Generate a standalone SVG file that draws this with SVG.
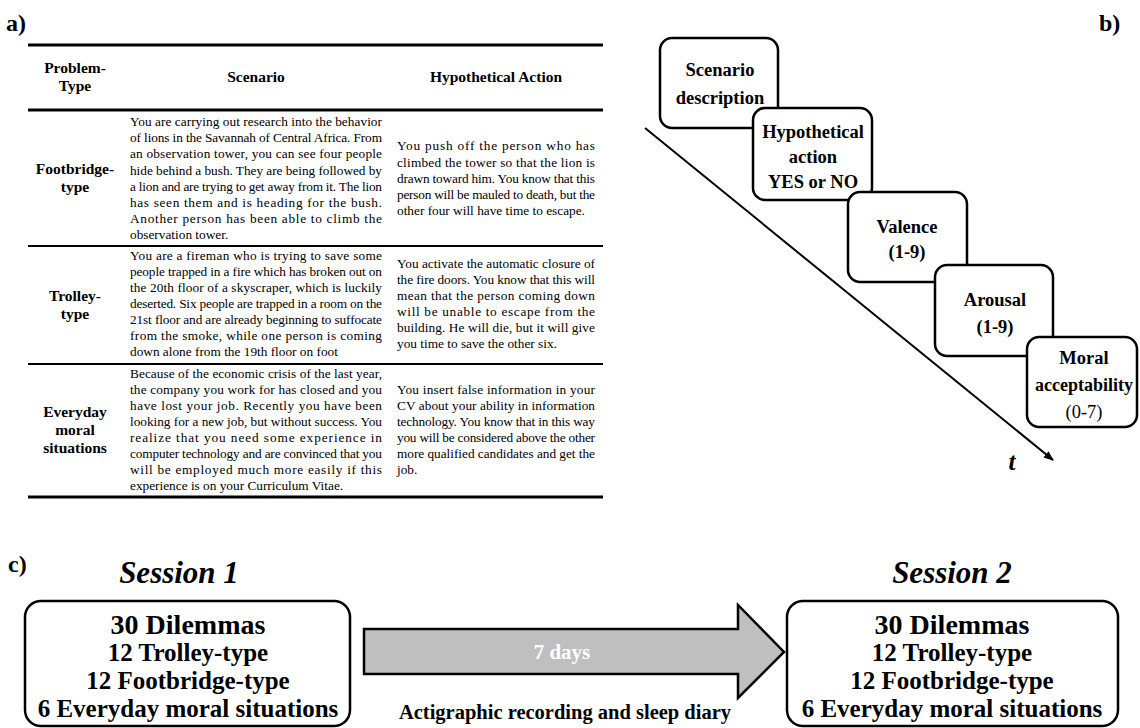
<svg xmlns="http://www.w3.org/2000/svg" width="1140" height="728" viewBox="0 0 1140 728">
<style>
text{font-family:"Liberation Serif","Times New Roman",serif;fill:#000}
.lbl{font-size:24px;font-weight:700}
.hd{font-size:15.5px;font-weight:700;text-anchor:middle}
.bd{font-size:13.3px}
.box{fill:#fff;stroke:#000;stroke-width:2.5}
.bt{font-size:18.5px;font-weight:700;text-anchor:middle}
.rule{stroke:#000}
.c1{font-size:28px;font-weight:700;text-anchor:middle}
.c2{font-size:25px;font-weight:700;text-anchor:middle}
.ses{font-size:31px;font-weight:700;font-style:italic;text-anchor:middle}
</style>
<defs>
<marker id="ah" markerWidth="10" markerHeight="10" refX="9" refY="5" orient="auto" markerUnits="userSpaceOnUse">
<path d="M0,1 L10,5 L0,9 z" fill="#000"/>
</marker>
</defs>
<rect width="1140" height="728" fill="#fff"/>

<!-- Panel a -->
<text class="lbl" x="6" y="31">a)</text>
<g id="table">
<line class="rule" x1="28" y1="45" x2="603" y2="45" stroke-width="3"/>
<line class="rule" x1="28" y1="110" x2="603" y2="110" stroke-width="3"/>
<line class="rule" x1="28" y1="246" x2="603" y2="246" stroke-width="2"/>
<line class="rule" x1="28" y1="364" x2="603" y2="364" stroke-width="2"/>
<line class="rule" x1="28" y1="497" x2="603" y2="497" stroke-width="3"/>
<text class="hd" x="75" y="73">Problem-</text>
<text class="hd" x="75" y="91">Type</text>
<text class="hd" x="256" y="82">Scenario</text>
<text class="hd" x="496" y="82">Hypothetical Action</text>

<text class="hd" x="75" y="174">Footbridge-</text>
<text class="hd" x="75" y="192">type</text>
<text class="hd" x="75" y="301">Trolley-</text>
<text class="hd" x="75" y="319">type</text>
<text class="hd" x="75" y="417">Everyday</text>
<text class="hd" x="75" y="435">moral</text>
<text class="hd" x="75" y="453">situations</text>

<g>
<text class="bd" x="130" y="126" textLength="252" lengthAdjust="spacing">You are carrying out research into the behavior</text>
<text class="bd" x="130" y="142.2" textLength="252" lengthAdjust="spacing">of lions in the Savannah of Central Africa. From</text>
<text class="bd" x="130" y="158.4" textLength="252" lengthAdjust="spacing">an observation tower, you can see four people</text>
<text class="bd" x="130" y="174.6" textLength="252" lengthAdjust="spacing">hide behind a bush. They are being followed by</text>
<text class="bd" x="130" y="190.8" textLength="252" lengthAdjust="spacing">a lion and are trying to get away from it. The lion</text>
<text class="bd" x="130" y="207" textLength="252" lengthAdjust="spacing">has seen them and is heading for the bush.</text>
<text class="bd" x="130" y="223.2" textLength="252" lengthAdjust="spacing">Another person has been able to climb the</text>
<text class="bd" x="130" y="239.4">observation tower.</text>

<text class="bd" x="397" y="150.3" textLength="198" lengthAdjust="spacing">You push off the person who has</text>
<text class="bd" x="397" y="166.5" textLength="198" lengthAdjust="spacing">climbed the tower so that the lion is</text>
<text class="bd" x="397" y="182.7" textLength="198" lengthAdjust="spacing">drawn toward him. You know that this</text>
<text class="bd" x="397" y="198.9" textLength="198" lengthAdjust="spacing">person will be mauled to death, but the</text>
<text class="bd" x="397" y="215.1">other four will have time to escape.</text>

<text class="bd" x="130" y="260" textLength="252" lengthAdjust="spacing">You are a fireman who is trying to save some</text>
<text class="bd" x="130" y="276" textLength="252" lengthAdjust="spacing">people trapped in a fire which has broken out on</text>
<text class="bd" x="130" y="292" textLength="252" lengthAdjust="spacing">the 20th floor of a skyscraper, which is luckily</text>
<text class="bd" x="130" y="308" textLength="252" lengthAdjust="spacing">deserted. Six people are trapped in a room on the</text>
<text class="bd" x="130" y="324" textLength="252" lengthAdjust="spacing">21st floor and are already beginning to suffocate</text>
<text class="bd" x="130" y="340" textLength="252" lengthAdjust="spacing">from the smoke, while one person is coming</text>
<text class="bd" x="130" y="356">down alone from the 19th floor on foot</text>

<text class="bd" x="397" y="268" textLength="198" lengthAdjust="spacing">You activate the automatic closure of</text>
<text class="bd" x="397" y="284" textLength="198" lengthAdjust="spacing">the fire doors. You know that this will</text>
<text class="bd" x="397" y="300" textLength="198" lengthAdjust="spacing">mean that the person coming down</text>
<text class="bd" x="397" y="316" textLength="198" lengthAdjust="spacing">will be unable to escape from the</text>
<text class="bd" x="397" y="332" textLength="198" lengthAdjust="spacing">building. He will die, but it will give</text>
<text class="bd" x="397" y="348">you time to save the other six.</text>

<text class="bd" x="130" y="378" textLength="252" lengthAdjust="spacing">Because of the economic crisis of the last year,</text>
<text class="bd" x="130" y="394" textLength="252" lengthAdjust="spacing">the company you work for has closed and you</text>
<text class="bd" x="130" y="410" textLength="252" lengthAdjust="spacing">have lost your job. Recently you have been</text>
<text class="bd" x="130" y="426" textLength="252" lengthAdjust="spacing">looking for a new job, but without success. You</text>
<text class="bd" x="130" y="442" textLength="252" lengthAdjust="spacing">realize that you need some experience in</text>
<text class="bd" x="130" y="458" textLength="252" lengthAdjust="spacing">computer technology and are convinced that you</text>
<text class="bd" x="130" y="474" textLength="252" lengthAdjust="spacing">will be employed much more easily if this</text>
<text class="bd" x="130" y="490">experience is on your Curriculum Vitae.</text>

<text class="bd" x="397" y="394" textLength="198" lengthAdjust="spacing">You insert false information in your</text>
<text class="bd" x="397" y="410" textLength="198" lengthAdjust="spacing">CV about your ability in information</text>
<text class="bd" x="397" y="426" textLength="198" lengthAdjust="spacing">technology. You know that in this way</text>
<text class="bd" x="397" y="442" textLength="198" lengthAdjust="spacing">you will be considered above the other</text>
<text class="bd" x="397" y="458" textLength="198" lengthAdjust="spacing">more qualified candidates and get the</text>
<text class="bd" x="397" y="474">job.</text>
</g>
</g>

<!-- Panel b -->
<text class="lbl" x="1099" y="31">b)</text>
<g id="connectors">
<line x1="645" y1="128" x2="1053" y2="460" stroke="#000" stroke-width="2" marker-end="url(#ah)"/>
<path id="days-arrow" d="M364,629 H738 V605 L784,652 L738,698 V674 H364 Z" fill="#bfbfbf" stroke="#000" stroke-width="2.5" stroke-linejoin="miter"/>
</g>
<text x="1012" y="470" style="font-size:25px;font-weight:700;font-style:italic;text-anchor:middle">t</text>

<g id="node-scenario">
<rect class="box" x="660" y="38" width="118" height="90" rx="12"/>
<text class="bt" x="720" y="76">Scenario</text>
<text class="bt" x="720" y="104">description</text>
</g>
<g id="node-action">
<rect class="box" x="753" y="108" width="119" height="92" rx="12"/>
<text class="bt" x="813" y="138">Hypothetical</text>
<text class="bt" x="813" y="163">action</text>
<text class="bt" x="813" y="188">YES or NO</text>
</g>
<g id="node-valence">
<rect class="box" x="848" y="192" width="119" height="90" rx="12"/>
<text class="bt" x="907" y="233">Valence</text>
<text class="bt" x="907" y="258">(1-9)</text>
</g>
<g id="node-arousal">
<rect class="box" x="935" y="265" width="118" height="91" rx="12"/>
<text class="bt" x="995" y="306">Arousal</text>
<text class="bt" x="995" y="333">(1-9)</text>
</g>
<g id="node-moral">
<rect class="box" x="1027" y="337" width="110" height="90" rx="12"/>
<text class="bt" x="1084" y="364">Moral</text>
<text class="bt" x="1084" y="391" style="font-size:18px">acceptability</text>
<text class="bt" x="1084" y="418" style="font-weight:400">(0-7)</text>
</g>

<!-- Panel c -->
<text class="lbl" x="8" y="572">c)</text>
<text class="ses" x="179" y="583">Session 1</text>
<text class="ses" x="952" y="583">Session 2</text>

<g id="node-session1">
<rect class="box" x="25" y="601" width="325" height="125" rx="16"/>
<text class="c1" x="188" y="634">30 Dilemmas</text>
<text class="c2" x="188" y="661">12 Trolley-type</text>
<text class="c2" x="188" y="689">12 Footbridge-type</text>
<text class="c2" x="188" y="717">6 Everyday moral situations</text>
</g>
<g id="node-session2">
<rect class="box" x="787" y="601" width="331" height="125" rx="16"/>
<text class="c1" x="952" y="634">30 Dilemmas</text>
<text class="c2" x="952" y="661">12 Trolley-type</text>
<text class="c2" x="952" y="689">12 Footbridge-type</text>
<text class="c2" x="952" y="717">6 Everyday moral situations</text>
</g>
<g id="label-days">
<text x="562" y="659" style="font-size:21px;font-weight:700;text-anchor:middle;fill:#fff">7 days</text>
<text x="565" y="719" style="font-size:20.5px;font-weight:700;text-anchor:middle">Actigraphic recording and sleep diary</text>
</g>
</svg>
